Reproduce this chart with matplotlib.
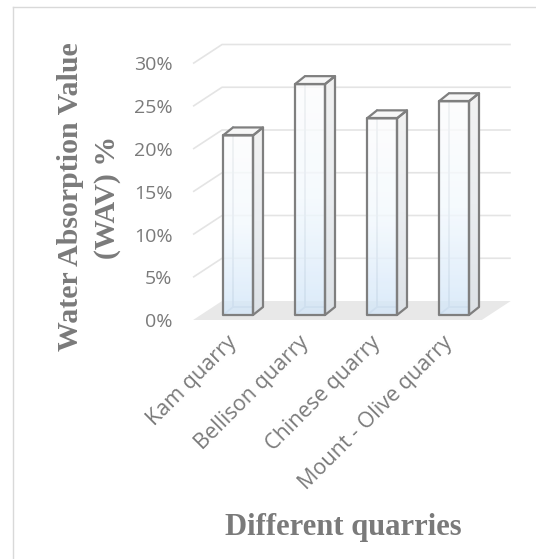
import numpy as np
import matplotlib
matplotlib.use("Agg")
import matplotlib.pyplot as plt
from matplotlib.patches import Polygon, Rectangle
from matplotlib.lines import Line2D
from matplotlib.colors import LinearSegmentedColormap

categories = ['Kam quarry', 'Bellison quarry', 'Chinese quarry', 'Mount - Olive quarry']
wav = [21, 27, 23, 25]
y_ticks = [0, 5, 10, 15, 20, 25, 30]
y_tick_labels = [f"{t}%" for t in y_ticks]

W, H = 536, 559
fig = plt.figure(figsize=(W / 100, H / 100), dpi=100)

# axes box in pixels (left, right, top, bottom)
px_l, px_r, px_t, px_b = 178, 530, 30, 345
ax = fig.add_axes([px_l / W, 1 - px_b / H, (px_r - px_l) / W, (px_b - px_t) / H])

# pixel -> data mapping used for the pseudo 3D look
x0_px, x_step = 230.5, 72.0
y0_px, y_step = 320.0, 8.55

# depth of floor / back wall, bar offsets (data units)
DX, DY = 29 / x_step, 19 / y_step
fx, fy = 7.5 / x_step, 5 / y_step
bx, by = 10 / x_step, 8 / y_step
bw = 30 / x_step

grey_edge = '#7f7f7f'
text_grey = '#7a7a7a'

floor_l, floor_r = -0.52, 3.49

# floor
ax.add_patch(Polygon([(floor_l, 0), (floor_r, 0), (floor_r + DX, DY), (floor_l + DX, DY)],
                     closed=True, facecolor='#e8e8e8', edgecolor='none', zorder=1))

# gridlines: side wall diagonal + back wall
for t in y_ticks[1:]:
    ax.plot([floor_l, floor_l + DX, floor_r + DX], [t, t + DY, t + DY],
            color='#e4e4e4', lw=1.2, zorder=1, solid_capstyle='butt')

cmap = LinearSegmentedColormap.from_list('bar', ['#d3e6f8', '#f3f9fe', '#fdfdfd'])
side_cmap = LinearSegmentedColormap.from_list('side', ['#dde2e7', '#eaedf0', '#f2f2f2'])
grad = np.linspace(0, 1, 256).reshape(-1, 1)

for i, v in enumerate(wav):
    x0 = i + fx - bw / 2
    x1 = i + fx + bw / 2
    y0 = fy
    top = v + fy

    # inner back edges seen through the glassy bar
    ax.plot([x0 + bx, x0 + bx], [y0 + by, top + by], color='#b9c2ca', lw=1.3, zorder=2)
    ax.plot([x0, x0 + bx, x1 + bx], [y0, y0 + by, y0 + by], color='#b9c2ca', lw=1.3, zorder=2)

    # front face gradient
    front = Rectangle((x0, y0), bw, v, facecolor='none', edgecolor='none', zorder=3)
    ax.add_patch(front)
    im = ax.imshow(grad, cmap=cmap, origin='lower', extent=[x0, x1, y0, top],
                   aspect='auto', zorder=3, alpha=0.8)
    im.set_clip_path(front)

    # side face
    side = Polygon([(x1, y0), (x1 + bx, y0 + by), (x1 + bx, top + by), (x1, top)],
                   closed=True, facecolor='none', edgecolor='none', zorder=3)
    ax.add_patch(side)
    im2 = ax.imshow(grad, cmap=side_cmap, origin='lower', extent=[x1, x1 + bx, y0, top + by],
                    aspect='auto', zorder=3)
    im2.set_clip_path(side)

    # top face
    ax.add_patch(Polygon([(x0, top), (x0 + bx, top + by), (x1 + bx, top + by), (x1, top)],
                         closed=True, facecolor='#f7f7f7', edgecolor=grey_edge, lw=1.6,
                         joinstyle='round', zorder=4))
    # outlines
    ax.add_patch(Rectangle((x0, y0), bw, v, facecolor='none', edgecolor=grey_edge, lw=1.6,
                           joinstyle='round', zorder=4))
    ax.add_patch(Polygon([(x1, y0), (x1 + bx, y0 + by), (x1 + bx, top + by), (x1, top)],
                         closed=True, facecolor='none', edgecolor=grey_edge, lw=1.6,
                         joinstyle='round', zorder=4))

    # category label
    ax.text(i + fx - 0.06, -2.3, categories[i], rotation=45, rotation_mode='anchor',
            ha='right', va='center', fontsize=15.5, color=text_grey, family='Open Sans')

ax.set_xlim((px_l - x0_px) / x_step, (px_r - x0_px) / x_step)
ax.set_ylim((y0_px - px_b) / y_step, (y0_px - px_t) / y_step)

ax.set_yticks(y_ticks)
ax.set_yticklabels(y_tick_labels, fontsize=14, color=text_grey, family='Open Sans')
ax.tick_params(axis='y', length=0, pad=4)
ax.set_xticks([])
for s in ax.spines.values():
    s.set_visible(False)
ax.patch.set_alpha(0)

# axis titles
fig.text(89 / W, 1 - 197 / H, 'Water Absorption Value\n(WAV) %', rotation=90,
         ha='center', va='center', ma='center', fontsize=21.5, fontweight='bold',
         color=text_grey, family='Liberation Serif', linespacing=1.5)
fig.text(343 / W, 1 - 528 / H, 'Different quarries', ha='center', va='center',
         fontsize=22, fontweight='bold', color=text_grey, family='Liberation Serif')

# chart border (top and left visible)
fig.add_artist(Line2D([13 / W, 13 / W], [0, 1 - 7 / H], color='#d9d9d9', lw=1))
fig.add_artist(Line2D([13 / W, 1], [1 - 7 / H, 1 - 7 / H], color='#d9d9d9', lw=1))

fig.savefig('out.png', dpi=100)
